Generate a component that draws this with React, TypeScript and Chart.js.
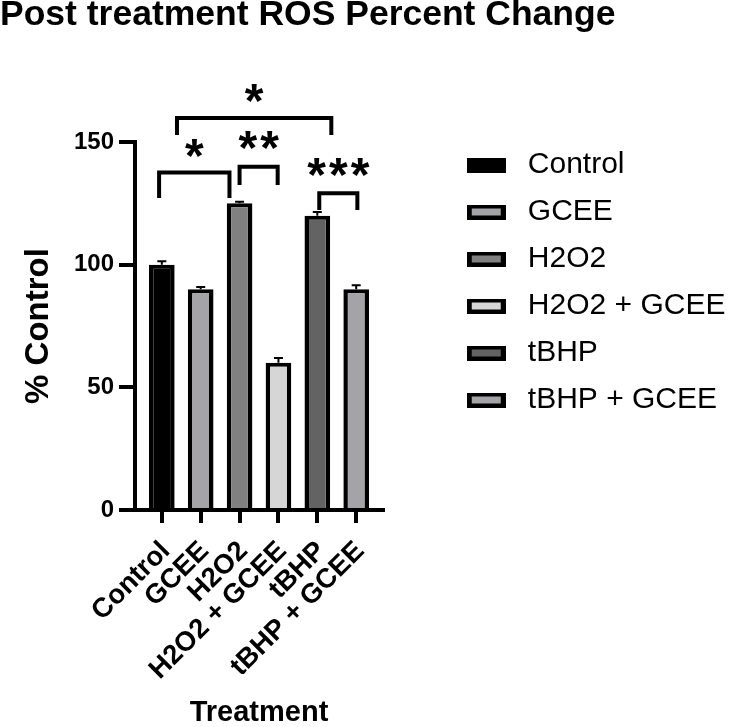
import React, { useEffect, useRef } from 'react';
import { Chart, registerables } from 'chart.js';

Chart.register(...registerables);

// ---- data ----
const categories = ['Control', 'GCEE', 'H2O2', 'H2O2 + GCEE', 'tBHP', 'tBHP + GCEE'];
const meanValues = [100, 90, 125, 60, 120, 90];
const semValues = [1.4, 0.9, 0.7, 2.0, 1.5, 1.6];
const yTickValues = [0, 50, 100, 150];

// significance brackets (x in category index units, y in % Control units)
const bracketFrom = [0.39, -0.07, 2.0, 4.05];
const bracketTo = [4.36, 1.74, 2.98, 5.03];
const bracketTop = [159.8, 137.6, 139.9, 129.1];
const bracketFoot = [152.9, 127.2, 132.5, 122.3];
const bracketMarks = ['*', '*', '**', '***'];
const markLevel = [169.8, 147.2, 150.5, 139.6];

// ---- styles ----
const barFills = ['#000000', '#a3a3a8', '#808080', '#d6d6d6', '#636363', '#a3a3a8'];
const FONT = "'Liberation Sans', Arial, Helvetica, sans-serif";

function makeSwatch(fill: string): HTMLCanvasElement {
  const c = document.createElement('canvas');
  c.width = 39;
  c.height = 15;
  const ctx = c.getContext('2d')!;
  ctx.fillStyle = '#000';
  ctx.fillRect(0, 0, 39, 15);
  ctx.fillStyle = fill;
  ctx.fillRect(5, 4, 29, 7);
  return c;
}

const annotationPlugin = {
  id: 'rosAnnotations',
  afterDatasetsDraw(chart: any) {
    const { ctx } = chart;
    const y = chart.scales.y;
    const meta = chart.getDatasetMeta(0);
    ctx.save();
    ctx.strokeStyle = '#000';
    ctx.lineWidth = 2;
    meta.data.forEach((bar: any, i: number) => {
      const top = y.getPixelForValue(meanValues[i]);
      const tip = y.getPixelForValue(meanValues[i] + semValues[i]);
      ctx.beginPath();
      ctx.moveTo(bar.x, top);
      ctx.lineTo(bar.x, tip);
      ctx.moveTo(bar.x - 4.5, tip);
      ctx.lineTo(bar.x + 4.5, tip);
      ctx.stroke();
    });
    ctx.restore();
  },
  afterDraw(chart: any) {
    const { ctx } = chart;
    const x = chart.scales.x;
    const y = chart.scales.y;
    ctx.save();
    ctx.strokeStyle = '#000';
    ctx.fillStyle = '#000';
    ctx.lineWidth = 4;
    ctx.lineJoin = 'miter';
    ctx.lineCap = 'butt';
    const starSize = 48;
    ctx.font = `bold ${starSize}px ${FONT}`;
    ctx.textAlign = 'center';
    ctx.textBaseline = 'alphabetic';
    bracketFrom.forEach((from, i) => {
      const x1 = x.getPixelForValue(from);
      const x2 = x.getPixelForValue(bracketTo[i]);
      const yt = y.getPixelForValue(bracketTop[i]);
      const yf = y.getPixelForValue(bracketFoot[i]);
      ctx.beginPath();
      ctx.moveTo(x1, yf);
      ctx.lineTo(x1, yt);
      ctx.lineTo(x2, yt);
      ctx.lineTo(x2, yf);
      ctx.stroke();
      const mid = (x1 + x2) / 2;
      const ym = y.getPixelForValue(markLevel[i]);
      const n = bracketMarks[i].length;
      for (let k = 0; k < n; k++) {
        const cx = mid + (k - (n - 1) / 2) * 21.7;
        ctx.fillText('*', cx, ym + 0.48 * starSize);
      }
    });
    ctx.restore();
  },
};

export default function App() {
  const ref = useRef<HTMLCanvasElement>(null);
  useEffect(() => {
    const swatches = barFills.map(makeSwatch);
    const chart = new Chart(ref.current!, {
      type: 'bar',
      data: {
        datasets: [
          {
            data: categories.map((_, i) => ({ x: i, y: meanValues[i] })),
            backgroundColor: barFills,
            borderColor: '#000',
            borderWidth: { top: 4, left: 4.5, right: 4.5, bottom: 0 },
            borderSkipped: 'start',
            categoryPercentage: 1,
            barPercentage: 0.66,
          } as any,
        ],
      },
      options: {
        responsive: false,
        animation: false,
        devicePixelRatio: 1,
        layout: { padding: { top: 0, left: 0, bottom: 0, right: -2.4 } },
        plugins: {
          tooltip: { enabled: false },
          title: {
            display: true,
            text: 'Post treatment ROS Percent Change',
            align: 'start',
            color: '#000',
            font: { family: FONT, size: 35.5, weight: 'bold', lineHeight: 0.88 },
            padding: { top: 0, bottom: 110.8 },
          },
          legend: {
            display: true,
            position: 'right',
            align: 'start',
            fullSize: true,
            maxWidth: 400,
            title: { display: true, text: '', font: { size: 10, lineHeight: 1 }, padding: { top: 123, bottom: 0 } },
            labels: {
              usePointStyle: true,
              pointStyleWidth: 53.2,
              padding: 17,
              color: '#000',
              font: { family: FONT, size: 30 },
              generateLabels: () =>
                categories.map((text, i) => ({
                  text,
                  fontColor: '#000',
                  pointStyle: swatches[i],
                  fillStyle: barFills[i],
                  strokeStyle: '#000',
                  lineWidth: 0,
                  hidden: false,
                  index: i,
                  datasetIndex: 0,
                })) as any,
            },
          },
        },
        scales: {
          x: {
            type: 'linear',
            min: -0.69,
            max: 5.69,
            offset: false,
            afterBuildTicks: (s: any) => {
              s.ticks = categories.map((_, i) => ({ value: i }));
            },
            afterFit: (s: any) => {
              s.height = 217;
            },
            grid: { display: true, offset: false, drawOnChartArea: false, drawTicks: true, tickLength: 13, lineWidth: 4, color: '#000' },
            border: { display: true, width: 4, color: '#000' },
            ticks: {
              autoSkip: false,
              minRotation: 45,
              maxRotation: 45,
              padding: 12,
              labelOffset: 4,
              color: '#000',
              font: { family: FONT, size: 27.5, weight: 'bold' },
              callback: (v: any) => categories[v as number] ?? '',
            },
            title: {
              display: true,
              text: 'Treatment',
              color: '#000',
              font: { family: FONT, size: 29, weight: 'bold', lineHeight: 1 },
              padding: 0,
            },
          } as any,
          y: {
            min: 0,
            max: 150,
            afterBuildTicks: (s: any) => {
              s.ticks = yTickValues.map((v) => ({ value: v }));
            },
            afterFit: (s: any) => {
              s.width = 135;
            },
            grid: { drawOnChartArea: false, drawTicks: true, tickLength: 16, lineWidth: 4, color: '#000' },
            border: { display: true, width: 4, color: '#000' },
            ticks: { padding: 5, color: '#000', font: { family: FONT, size: 24, weight: 'bold' } },
            title: {
              display: true,
              text: '% Control',
              color: '#000',
              font: { family: FONT, size: 33, weight: 'bold' },
              padding: { top: 18.8, bottom: 0 },
            },
          } as any,
          gap: {
            type: 'linear',
            position: 'right',
            display: true,
            grid: { display: false },
            border: { display: false },
            ticks: { display: false },
            afterFit: (s: any) => {
              s.width = 59.6;
            },
          } as any,
        },
      },
      plugins: [annotationPlugin],
    });
    return () => chart.destroy();
  }, []);
  return (
    <div style={{ position: 'absolute', left: 0, top: 0, width: 733, height: 727 }}>
      <canvas ref={ref} width={733} height={727} style={{ display: 'block', width: 733, height: 727 }} />
    </div>
  );
}
